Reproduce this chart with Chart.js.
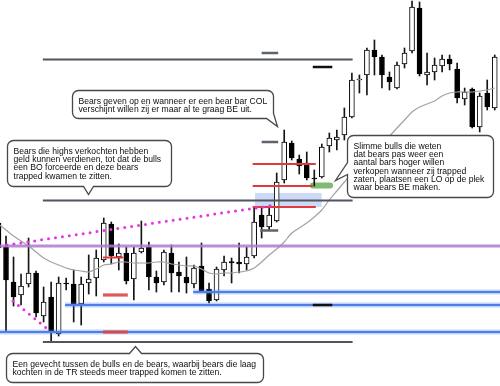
<!DOCTYPE html>
<html>
<head>
<meta charset="utf-8">
<script src="https://cdn.jsdelivr.net/npm/chart.js@4.4.1/dist/chart.umd.min.js"></script>
<style>
  html, body { margin: 0; padding: 0; background: #fff; }
  canvas { display: block; }
</style>
</head>
<body>
<canvas id="chart" width="500" height="386"></canvas>
<script>
// Bars, first one (index -1) is cut off at the left edge
const firstBar = -1;
const opens  = [277,253,218,205,216,227,184,203,166,217,216,196,217,222,240,276,243,247,221,248,253,223,218,247,228,223,216,234,211,200,230,238.5,238,236,244,285,273,279,320,357,341,337,322,323,354,360,365,383,420,425,450,443,423,412,436,449,492,425,428,434,441,431,401,411,373,407,392];
const highs  = [280,264,243,226,262,229,213,218,223,222,230,223,245,250,282,278,256,253,253,279,258,229,250,255,238,243,235,257,217,233,244,242,257,253,292,292,294,327,370,359,345,348,330,356,367,370,392,427,425,452,460,445,428,438,452,499,498,447,442,445,445,437,412,412,407,420,445];
const lows   = [250,168,194,195,213,183,178,158,164,210,178,175,206,204,238,236,230,216,200,247,210,208,215,208,208,207,212,208,197,199,224,217,227,230,242,262,270,278,317,340,326,320,314,322,348,350,360,382,407,405,425,412,410,411,432,447,424,415,420,428,430,397,395,372,368,390,390];
const closes = [252,220,203,214,227,187,198,168,217,216,195,216,221,242,277,244,247,219,247,252,223,217,248,227,224,217,232,209,199,231,238,237,236,243,278,273,285,318,358,342,334,322,321,353,362,363,383,420,421,450,443,425,418,435,447,493,426,428,435,441,436,402,408,373,404,393,443];
// grey moving average
const avg    = [276,270,264,259,254,248,242,238,235,232,230,229,228,231,235,236,238,238,237,237,237,238,238,236,235,234,234,231,227,226,227,227,228,229,232,238,245,251,258,267,272,277,283,290,300,309,318,327,335,344,352,358,364,372,380,388,393,396,399,404,407,408,408,408,409,410,412];

// drawn levels: [from bar, to bar, price]
const darkLines  = [[4.9, 46.1, 440.5], [4.9, 46.1, 299.5], [4.9, 46.1, 158]];
const greyTicks  = [[34.0, 36.2, 447], [34.0, 36.2, 358], [33.8, 36.2, 269.5]];
const blackTicks = [[40.8, 43.4, 433], [40.8, 43.4, 195]];
const redLines   = [[32.8, 41.2, 336], [32.8, 40.8, 314], [32.8, 41.2, 293], [12.9, 15.6, 242.5]];
const redMarks   = [[12.9, 16.2, 205], [12.9, 16.2, 168]];
const blueLines  = [[24.9, 66, 208], [7.85, 66, 195], [-1, 66, 168]];
const purpleLine = [-1, 66, 254];
const greenMark  = [40.8, 43.1, 314.5];
const zone       = [33.1, 42.0, 293, 307];
const dottedUp   = [[0.13, 255], [35.9, 295]];
const dottedDown = [[0.93, 199], [5.85, 169]];

const callouts = [
  { outline: [['c', 8.78, 410], ['c', 35.5, 410], ['p', 35.5, 387], ['p', 36.04, 374], ['p', 34.57, 382], ['c', 8.78, 382]],
    lines: ['Bears geven op en wanneer er een bear bar COL', 'verschijnt willen zij er maar al te graag BE uit.'] },
  { outline: [['c', 0.13, 360], ['c', 21.94, 360], ['c', 21.94, 314], ['p', 11.57, 314], ['p', 10.9, 306], ['p', 10.24, 314], ['c', 0.13, 314]],
    lines: ['Bears die highs verkochten hebben', 'geld kunnen verdienen, tot dat de bulls', 'een BO forceerde en deze bears', 'trapped kwamen te zitten.'] },
  { outline: [['c', 45.35, 365], ['c', 64.76, 365], ['c', 64.76, 303], ['c', 45.35, 303], ['p', 45.35, 326], ['p', 43.75, 320], ['p', 45.35, 338]],
    lines: ['Slimme bulls die weten', 'dat bears pas weer een', 'aantal bars hoger willen', 'verkopen wanneer zij trapped', 'zaten, plaatsen een LO op de plek', 'waar bears BE maken.'] },
  { outline: [['c', 0, 147], ['p', 16.36, 147], ['p', 17.15, 154], ['p', 17.95, 147], ['c', 34.18, 147], ['c', 34.18, 118], ['c', 0, 118]],
    lines: ['Een gevecht tussen de bulls en de bears, waarbij bears die laag', 'kochten in de TR steeds meer trapped komen te zitten.'] }
];

const bars = opens.map((_, i) => i + firstBar);

const seg = (s, color, width, order, extra) => Object.assign({
  type: 'line',
  data: [{ x: s[0], y: s[2] }, { x: s[1], y: s[2] }],
  borderColor: color, borderWidth: width, pointRadius: 0, order
}, extra || {});

const datasets = [
  // candles
  {
    type: 'bar', order: 5, grouped: false, barThickness: 1,
    data: bars.map((x, i) => ({ x, y: [lows[i], highs[i]] })),
    backgroundColor: '#151515', borderWidth: 0
  },
  {
    type: 'bar', order: 4, grouped: false, barThickness: 5,
    data: bars.map((x, i) => ({ x, y: [opens[i], closes[i]] })),
    backgroundColor: bars.map((_, i) => closes[i] >= opens[i] ? '#ffffff' : '#000000'),
    borderColor: '#000', borderWidth: 1, borderSkipped: false
  },
  // moving average
  {
    type: 'line', order: 3,
    data: bars.map((x, i) => ({ x, y: avg[i] })),
    borderColor: '#a2a2a2', borderWidth: 1.2, pointRadius: 0, tension: 0.2
  },
  // blue zone
  { type: 'line', order: 7, data: [{ x: zone[0], y: zone[2] }, { x: zone[1], y: zone[2] }], borderWidth: 0, pointRadius: 0, fill: false },
  { type: 'line', order: 7, data: [{ x: zone[0], y: zone[3] }, { x: zone[1], y: zone[3] }], borderWidth: 0, pointRadius: 0,
    fill: '-1', backgroundColor: 'rgba(100,140,230,0.33)' },
  seg(greenMark, 'rgba(95,170,80,0.8)', 6, 6, { borderCapStyle: 'round' }),
  seg(purpleLine, 'rgba(176,120,205,0.85)', 3, 2),
  ...blueLines.map(s => seg(s, 'rgba(80,125,235,0.35)', 5, 2)),
  ...blueLines.map(s => seg(s, '#4c7ee9', 2, 2)),
  ...darkLines.map(s => seg(s, '#50555e', 2, 1)),
  ...greyTicks.map(s => seg(s, '#5e636c', 2.5, 1)),
  ...blackTicks.map(s => seg(s, '#111', 2.5, 1)),
  ...redLines.map(s => seg(s, '#e23a3a', 2, 1)),
  ...redMarks.map(s => seg(s, 'rgba(222,70,70,0.9)', 3.2, 1)),
  ...[dottedUp, dottedDown].map(d => ({
    type: 'line', order: 0,
    data: d.map(p => ({ x: p[0], y: p[1] })),
    borderColor: '#e434e4', borderWidth: 3, borderDash: [0, 7], borderCapStyle: 'round', pointRadius: 0
  }))
];

// speech bubbles, drawn on top
const calloutPlugin = {
  id: 'callouts',
  afterDatasetsDraw(chart) {
    const { ctx, scales: { x, y } } = chart;
    ctx.save();
    ctx.font = '8.6px "Liberation Sans", Arial, sans-serif';
    ctx.textBaseline = 'middle';
    callouts.forEach(c => {
      const pts = c.outline.map(p => [Math.round(x.getPixelForValue(p[1])) + 0.5, Math.round(y.getPixelForValue(p[2])) + 0.5, p[0] === 'c' ? 6 : 0]);
      const n = pts.length;
      const last = pts[n - 1];
      ctx.beginPath();
      ctx.moveTo((last[0] + pts[0][0]) / 2, (last[1] + pts[0][1]) / 2);
      for (let i = 0; i < n; i++) {
        const p = pts[i], q = pts[(i + 1) % n];
        ctx.arcTo(p[0], p[1], q[0], q[1], p[2]);
      }
      ctx.closePath();
      ctx.fillStyle = '#fff';
      ctx.fill();
      ctx.strokeStyle = '#484848';
      ctx.lineWidth = 1.3;
      ctx.stroke();
      ctx.fillStyle = '#0d0d0d';
      c.lines.forEach((t, i) => ctx.fillText(t, pts[0][0] + 6, pts[0][1] + 10.8 + i * 8.3));
    });
    ctx.restore();
  }
};

new Chart(document.getElementById('chart'), {
  type: 'bar',
  data: { datasets },
  options: {
    responsive: false,
    animation: false,
    events: [],
    layout: { padding: 0 },
    plugins: { legend: { display: false }, tooltip: { enabled: false } },
    scales: {
      x: { type: 'linear', min: -0.8, max: 65.7, offset: false, display: false },
      y: { type: 'linear', min: 114, max: 500, display: false }
    }
  },
  plugins: [calloutPlugin]
});
</script>
</body>
</html>
